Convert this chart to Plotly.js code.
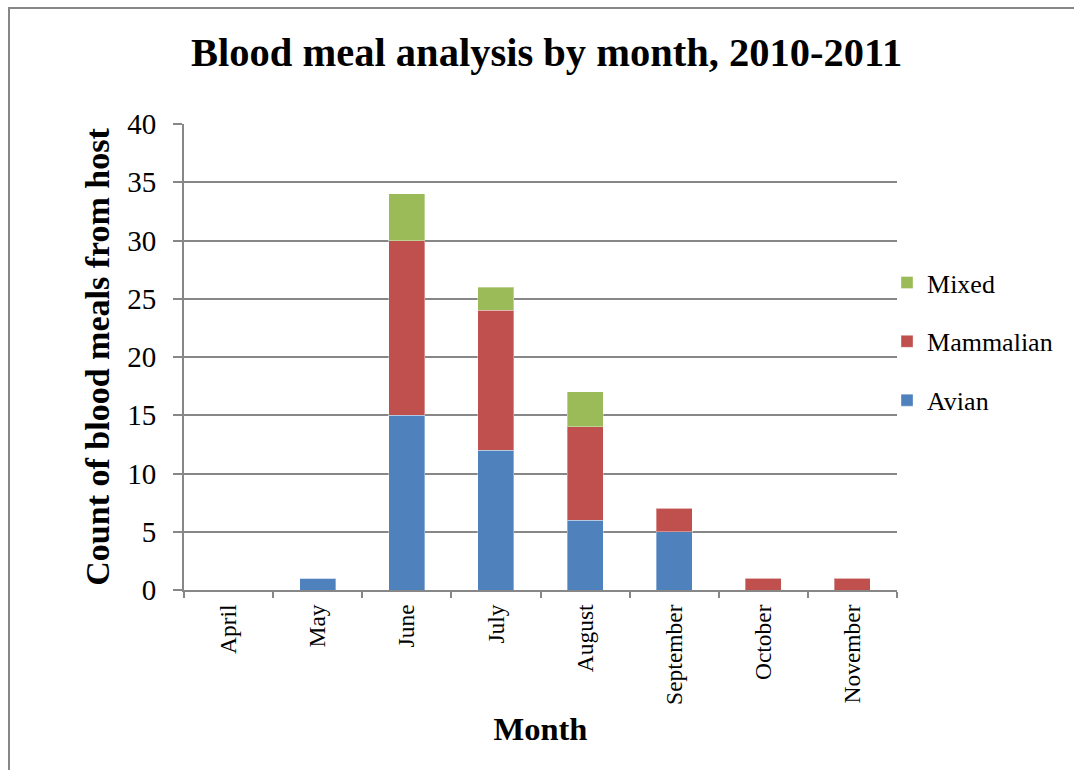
<!DOCTYPE html>
<html>
<head>
<meta charset="utf-8">
<script src="https://cdn.plot.ly/plotly-3.0.1.min.js"></script>
<style>
  html, body { margin: 0; padding: 0; background: #ffffff; }
  #wrap { position: relative; width: 1074px; height: 770px; overflow: hidden; }
  #frame { position: absolute; left: 8px; top: 7px; width: 1100px; height: 800px;
           border-left: 2px solid #878787; border-top: 2px solid #878787; pointer-events: none; }
  #chart { position: absolute; left: 0; top: 0; width: 1074px; height: 770px; }
</style>
</head>
<body>
<div id="wrap">
  <div id="chart"></div>
  <div id="frame"></div>
</div>
<script>
// Monthly counts of blood meals by host class
const months = ["April", "May", "June", "July", "August", "September", "October", "November"];
const avian = [0, 1, 15, 12, 6, 5, 0, 0];
const mammalian = [0, 0, 15, 12, 8, 2, 1, 1];
const mixed = [0, 0, 4, 2, 3, 0, 0, 0];
const yTicks = [0, 5, 10, 15, 20, 25, 30, 35, 40];

const serif = "Liberation Serif, Times New Roman, serif";
const grey = "#878787";

function barTrace(name, values, color, group, rank) {
  return {
    type: "bar",
    name: name,
    x: months,
    y: values,
    legendgroup: group,
    legendrank: rank,
    marker: { color: color, line: { color: "rgba(255,255,255,0.35)", width: 1 } },
    hoverinfo: "x+y+name"
  };
}

// Legend lists the top segment first
const data = [
  barTrace("Avian", avian, "#4F81BD", "a", 3),
  barTrace("Mammalian", mammalian, "#C0504D", "b", 2),
  barTrace("Mixed", mixed, "#9BBB59", "c", 1)
];

const layout = {
  width: 1074,
  height: 770,
  paper_bgcolor: "#ffffff",
  plot_bgcolor: "#ffffff",
  margin: { l: 184, r: 177, t: 124, b: 180, pad: 0, autoexpand: false },
  barmode: "stack",
  bargap: 0.595,
  font: { family: serif, color: "#000000", size: 24 },
  title: {
    text: "<b>Blood meal analysis by month, 2010-2011</b>",
    font: { family: serif, size: 40.5, color: "#000000" },
    x: 0.509, xanchor: "center",
    y: 0.933, yanchor: "middle", yref: "container"
  },
  xaxis: {
    type: "category",
    categoryorder: "array",
    categoryarray: months,
    tickangle: -90,
    tickson: "boundaries",
    ticks: "outside",
    ticklen: 6,
    tickwidth: 2,
    tickcolor: grey,
    showline: true,
    linecolor: grey,
    linewidth: 2,
    showgrid: false,
    ticklabelstandoff: 3,
    tickfont: { family: serif, size: 23.5, color: "#000000" },
    title: { text: "<b>Month</b>", font: { family: serif, size: 32.5, color: "#000000" }, standoff: 13 },
    fixedrange: true
  },
  yaxis: {
    range: [0, 40],
    tickvals: yTicks,
    ticktext: yTicks.map(String),
    ticks: "outside",
    ticklen: 9,
    tickwidth: 2,
    tickcolor: grey,
    showline: true,
    linecolor: grey,
    linewidth: 2,
    showgrid: true,
    gridcolor: grey,
    gridwidth: 2,
    zeroline: false,
    ticklabelstandoff: 11,
    tickfont: { family: serif, size: 29, color: "#000000" },
    title: { text: "<b>Count of blood meals from host</b>", font: { family: serif, size: 34, color: "#000000" }, standoff: 7 },
    fixedrange: true
  },
  showlegend: true,
  legend: {
    x: 0.986, xanchor: "left",
    y: 0.71, yanchor: "top",
    traceorder: "grouped",
    tracegroupgap: 22,
    font: { family: serif, size: 26, color: "#000000" },
    itemwidth: 30,
    bgcolor: "rgba(0,0,0,0)"
  }
};

Plotly.newPlot("chart", data, layout, { displayModeBar: false, staticPlot: true });
</script>
</body>
</html>
